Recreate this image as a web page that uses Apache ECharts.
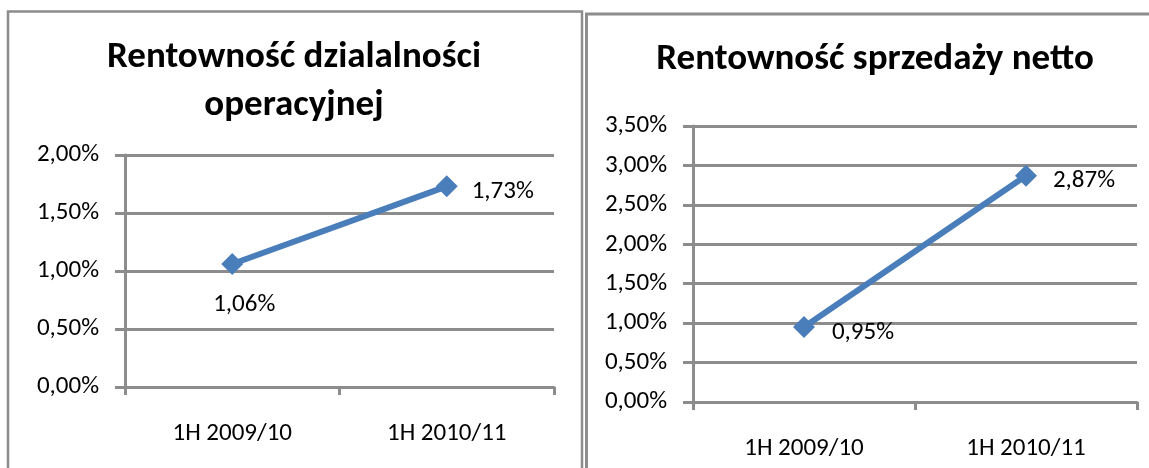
<!DOCTYPE html>
<html>
<head>
<meta charset="utf-8">
<script src="https://cdn.jsdelivr.net/npm/echarts@6/dist/echarts.min.js"></script>
<style>
html,body{margin:0;padding:0;background:#fff;}
#c{width:1149px;height:468px;}
</style>
</head>
<body>
<div id="c"></div>
<script>
// ---- data ----
const categories = ['1H 2009/10', '1H 2010/11'];
const operatingMargin = [1.06, 1.73];      // Rentowność działalności operacyjnej (%)
const netSalesMargin = [0.95, 2.87];       // Rentowność sprzedaży netto (%)
const leftTitle = 'Rentowność dzialalności\noperacyjnej';
const rightTitle = 'Rentowność sprzedaży netto';
const leftAxis = {min: 0, max: 2, interval: 0.5};
const rightAxis = {min: 0, max: 3.5, interval: 0.5};

// ---- styles ----
const FONT = "Carlito, Lato, 'Liberation Sans', sans-serif";
const GREY = '#8c8c8c';
const BLUE = '#4a7ebb';
const LBL = 25;
const TTL = 37;
const fmt = v => v.toFixed(2).replace('.', ',') + '%';

const leftOffsets = [[12, 41], [56, 5]];
const rightOffsets = [[59, 6], [58, 5]];

function makeData(vals, offs) {
  return vals.map((v, i) => ({
    value: v,
    label: {offset: offs[i]}
  }));
}

function xAxis(gi) {
  return {
    type: 'category', gridIndex: gi, data: categories, boundaryGap: true,
    axisLine: {show: true, lineStyle: {color: GREY, width: 3}},
    axisTick: {show: true, length: 8, lineStyle: {color: GREY, width: 3}},
    axisLabel: {color: '#000', fontFamily: FONT, fontSize: LBL, margin: 34},
    splitLine: {show: false}
  };
}
function yAxis(gi, ax) {
  return {
    type: 'value', gridIndex: gi, min: ax.min, max: ax.max, interval: ax.interval,
    axisLine: {show: true, lineStyle: {color: GREY, width: 3}},
    axisTick: {show: true, length: 10, lineStyle: {color: GREY, width: 3}},
    axisLabel: {color: '#000', fontFamily: FONT, fontSize: LBL, margin: 26, formatter: fmt},
    splitLine: {show: true, lineStyle: {color: GREY, width: 3}}
  };
}
function series(gi, vals, offs) {
  return {
    type: 'line', xAxisIndex: gi, yAxisIndex: gi,
    data: makeData(vals, offs),
    symbol: 'diamond', symbolSize: 22,
    lineStyle: {color: BLUE, width: 6},
    itemStyle: {color: BLUE},
    label: {
      show: true, position: 'inside', color: '#000', fontFamily: FONT, fontSize: LBL,
      formatter: p => fmt(p.value)
    },
    emphasis: {disabled: true},
    animation: false, z: 5
  };
}

const chart = echarts.init(document.getElementById('c'), null, {renderer: 'canvas'});
chart.setOption({
  backgroundColor: '#fff',
  animation: false,
  grid: [
    {left: 125, right: 1149 - 554, top: 155, bottom: 468 - 387},
    {left: 693, right: 1149 - 1137, top: 126, bottom: 468 - 402}
  ],
  xAxis: [xAxis(0), xAxis(1)],
  yAxis: [yAxis(0, leftAxis), yAxis(1, rightAxis)],
  series: [series(0, operatingMargin, leftOffsets), series(1, netSalesMargin, rightOffsets)],
  graphic: [
    {type: 'rect', shape: {x: 8, y: 11.5, width: 574, height: 500},
      style: {fill: null, stroke: GREY, lineWidth: 2.5}, silent: true},
    {type: 'rect', shape: {x: 586.5, y: 14, width: 620, height: 500},
      style: {fill: null, stroke: GREY, lineWidth: 3}, silent: true},
    {type: 'text', x: 294, y: 58, silent: true,
      style: {text: leftTitle.split('\n')[0], fontFamily: FONT, fontWeight: 'bold', fontSize: TTL,
        fill: '#000', align: 'center', verticalAlign: 'middle'}},
    {type: 'text', x: 294, y: 106, silent: true,
      style: {text: leftTitle.split('\n')[1], fontFamily: FONT, fontWeight: 'bold', fontSize: TTL,
        fill: '#000', align: 'center', verticalAlign: 'middle'}},
    {type: 'text', x: 875, y: 60, silent: true,
      style: {text: rightTitle, fontFamily: FONT, fontWeight: 'bold', fontSize: TTL,
        fill: '#000', align: 'center', verticalAlign: 'middle'}}
  ]
});
</script>
</body>
</html>
